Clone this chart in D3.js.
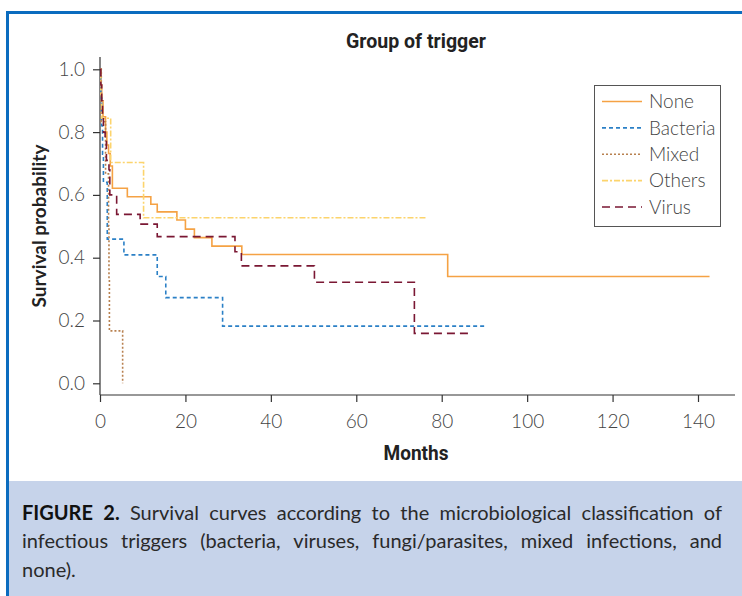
<!DOCTYPE html>
<html>
<head>
<meta charset="utf-8">
<script src="https://cdn.jsdelivr.net/npm/d3@7"></script>
<style>
  html, body { margin: 0; padding: 0; background: #fff; }
  svg { display: block; }
</style>
</head>
<body>
<svg id="chart" width="742" height="596"></svg>
<script>
// ---------------- DATA ----------------
const groups = ["None", "Bacteria", "Mixed", "Others", "Virus"];
const xTicks = [0, 20, 40, 60, 80, 100, 120, 140];
const yTicks = [0.0, 0.2, 0.4, 0.6, 0.8, 1.0];

// step times (months) and survival after each step
const noneTimes = [0, 0.2, 0.4, 0.7, 1.3, 1.6, 2.0, 2.4, 2.9, 6.4, 11.9, 13.4, 18.0, 20.0, 22.1, 26.2, 33.2, 81.4];
const noneSurv  = [1.0, 0.95, 0.90, 0.849, 0.80, 0.759, 0.732, 0.692, 0.621, 0.594, 0.570, 0.546, 0.520, 0.491, 0.464, 0.437, 0.410, 0.340];
const noneEnd = 142.7;

const bactTimes = [0, 0.2, 0.4, 0.6, 0.8, 1.7, 5.6, 13.4, 15.4, 28.7];
const bactSurv  = [1.0, 0.91, 0.82, 0.73, 0.64, 0.459, 0.409, 0.340, 0.273, 0.182];
const bactEnd = 90.2;

const mixedTimes = [0, 0.3, 1.3, 2.0, 2.1, 2.2, 5.3];
const mixedSurv  = [1.0, 0.833, 0.667, 0.5, 0.333, 0.167, 0.0];
const mixedEnd = 5.3;

const othersTimes = [0, 0.2, 0.4, 2.5, 10.2];
const othersSurv  = [1.0, 0.92, 0.844, 0.703, 0.527];
const othersEnd = 76.6;

const virusTimes = [0, 0.2, 0.4, 0.6, 0.8, 1.2, 1.5, 2.1, 2.3, 3.9, 9.4, 13.4, 31.6, 33.1, 50.2, 73.6];
const virusSurv  = [1.0, 0.95, 0.90, 0.85, 0.80, 0.77, 0.71, 0.68, 0.60, 0.538, 0.507, 0.467, 0.419, 0.374, 0.322, 0.159];
const virusEnd = 86.7;

const seriesTimes = [noneTimes, bactTimes, mixedTimes, othersTimes, virusTimes];
const seriesSurv = [noneSurv, bactSurv, mixedSurv, othersSurv, virusSurv];
const seriesEnd = [noneEnd, bactEnd, mixedEnd, othersEnd, virusEnd];

const colors = ["#f5a244", "#2b80c6", "#b88150", "#fcd46c", "#7a1733"];
const dashes = [null, "4,3", "2,2", "6,2,2,2", "8,5"];

const title = "Group of trigger";
const xLabel = "Months";
const yLabel = "Survival probability";
const captionBold = "FIGURE 2.";
const captionLines = [
  "Survival curves according to the microbiological classification of",
  "infectious triggers (bacteria, viruses, fungi/parasites, mixed infections, and",
  "none)."
];

// ---------------- DRAW ----------------
const svg = d3.select("#chart");
const W = 742, H = 596;

// frame
svg.append("rect").attr("x", 0).attr("y", 0).attr("width", W).attr("height", H).attr("fill", "#fff");
svg.append("rect").attr("x", 9).attr("y", 481).attr("width", W - 9).attr("height", H - 481).attr("fill", "#c6d3ea");
svg.append("rect").attr("x", 6).attr("y", 11).attr("width", W - 6).attr("height", 3).attr("fill", "#0b6cbf");
svg.append("rect").attr("x", 6).attr("y", 11).attr("width", 3).attr("height", H - 11).attr("fill", "#0b6cbf");

const x = d3.scaleLinear().domain([0, 140]).range([100, 698]);
const y = d3.scaleLinear().domain([0, 1]).range([383.3, 69.3]);
const axisY = 395;

const tickFont = "Lato, 'Open Sans', sans-serif";

// x axis
const xAxisG = svg.append("g").attr("transform", `translate(0,${axisY})`)
  .call(d3.axisBottom(x).tickValues(xTicks).tickSize(7).tickPadding(13).tickFormat(d3.format("d")));
xAxisG.select(".domain").attr("d", `M100,0H735`);
// y axis
const yAxisG = svg.append("g").attr("transform", `translate(100,0)`)
  .call(d3.axisLeft(y).tickValues(yTicks).tickSize(7).tickPadding(8).tickFormat(d3.format(".1f")));
yAxisG.select(".domain").attr("d", `M0,57V${axisY}`);

[xAxisG, yAxisG].forEach(g => {
  g.selectAll(".domain").attr("stroke", "#333").attr("stroke-width", 1.2);
  g.selectAll(".tick line").attr("stroke", "#333").attr("stroke-width", 1.2);
  g.selectAll(".tick text").attr("font-family", tickFont).attr("font-weight", 300)
    .attr("font-size", 19).attr("fill", "#444");
});

// curves
const line = d3.line().x(d => x(d[0])).y(d => y(d[1])).curve(d3.curveStepAfter);
const plot = svg.append("g");
groups.forEach((g, i) => {
  const pts = seriesTimes[i].map((t, j) => [t, seriesSurv[i][j]]);
  pts.push([seriesEnd[i], seriesSurv[i][seriesSurv[i].length - 1]]);
  plot.append("path").datum(pts)
    .attr("d", line)
    .attr("fill", "none")
    .attr("stroke", colors[i])
    .attr("stroke-width", 1.6)
    .attr("stroke-dasharray", dashes[i]);
});

// title and labels (condensed look via textLength)
svg.append("text").attr("x", 416).attr("y", 48).attr("text-anchor", "middle")
  .attr("font-family", "Roboto, sans-serif").attr("font-weight", 700).attr("font-size", 20)
  .attr("textLength", 140).attr("lengthAdjust", "spacingAndGlyphs")
  .attr("fill", "#222").text(title);
svg.append("text").attr("x", 416).attr("y", 460).attr("text-anchor", "middle")
  .attr("font-family", "Roboto, sans-serif").attr("font-weight", 700).attr("font-size", 20)
  .attr("textLength", 65).attr("lengthAdjust", "spacingAndGlyphs")
  .attr("fill", "#222").text(xLabel);
svg.append("text").attr("transform", "translate(46,226) rotate(-90)").attr("text-anchor", "middle")
  .attr("font-family", "Lato, sans-serif").attr("font-weight", 700).attr("font-size", 19)
  .attr("fill", "#222").text(yLabel);

// legend
const lg = svg.append("g");
lg.append("rect").attr("x", 594.5).attr("y", 85.5).attr("width", 126).attr("height", 141)
  .attr("fill", "#fff").attr("stroke", "#555").attr("stroke-width", 1);
const legendY = d3.scalePoint().domain(groups).range([101.5, 207]);
groups.forEach((g, i) => {
  const yy = legendY(g);
  lg.append("line").attr("x1", 602).attr("x2", 642).attr("y1", yy).attr("y2", yy)
    .attr("stroke", colors[i]).attr("stroke-width", 1.6).attr("stroke-dasharray", dashes[i]);
  lg.append("text").attr("x", 649).attr("y", yy).attr("dy", "0.35em")
    .attr("font-family", tickFont).attr("font-weight", 300).attr("font-size", 19)
    .attr("fill", "#444").text(g);
});

// caption (justified, explicit line breaks as in the original)
const capFont = "Lato, 'Open Sans', sans-serif";
const capSize = 20;
const capLeft = 22, capRight = 722;
const lineYs = [520, 548, 577];
const measure = svg.append("text").attr("font-family", capFont).attr("font-size", capSize).attr("visibility", "hidden");
function wordWidth(w, bold) {
  measure.attr("font-weight", bold ? 700 : 400).text(w);
  return measure.node().getComputedTextLength();
}
const spaceW = (function(){ measure.attr("font-weight", 400).text("a a"); const a = measure.node().getComputedTextLength(); measure.text("aa"); return a - measure.node().getComputedTextLength(); })();
const lines = captionLines.map((ln, i) => {
  const arr = [];
  if (i === 0) captionBold.split(" ").forEach(w => arr.push({w, bold: true}));
  ln.split(" ").forEach(w => arr.push({w, bold: false}));
  arr.forEach(o => o.width = wordWidth(o.w, o.bold));
  return arr;
});
measure.remove();
const maxW = capRight - capLeft;
lines.forEach((ln, li) => {
  const total = d3.sum(ln, o => o.width);
  const gaps = ln.length - 1;
  const last = li === lines.length - 1;
  const gapW = (!last && gaps > 0) ? (maxW - total) / gaps : spaceW;
  let xx = capLeft;
  ln.forEach(o => {
    svg.append("text").attr("x", xx).attr("y", lineYs[li])
      .attr("font-family", capFont).attr("font-size", capSize)
      .attr("font-weight", o.bold ? 700 : 400).attr("fill", o.bold ? "#111" : "#2a2a2a").text(o.w);
    xx += o.width + gapW;
  });
});
</script>
</body>
</html>
